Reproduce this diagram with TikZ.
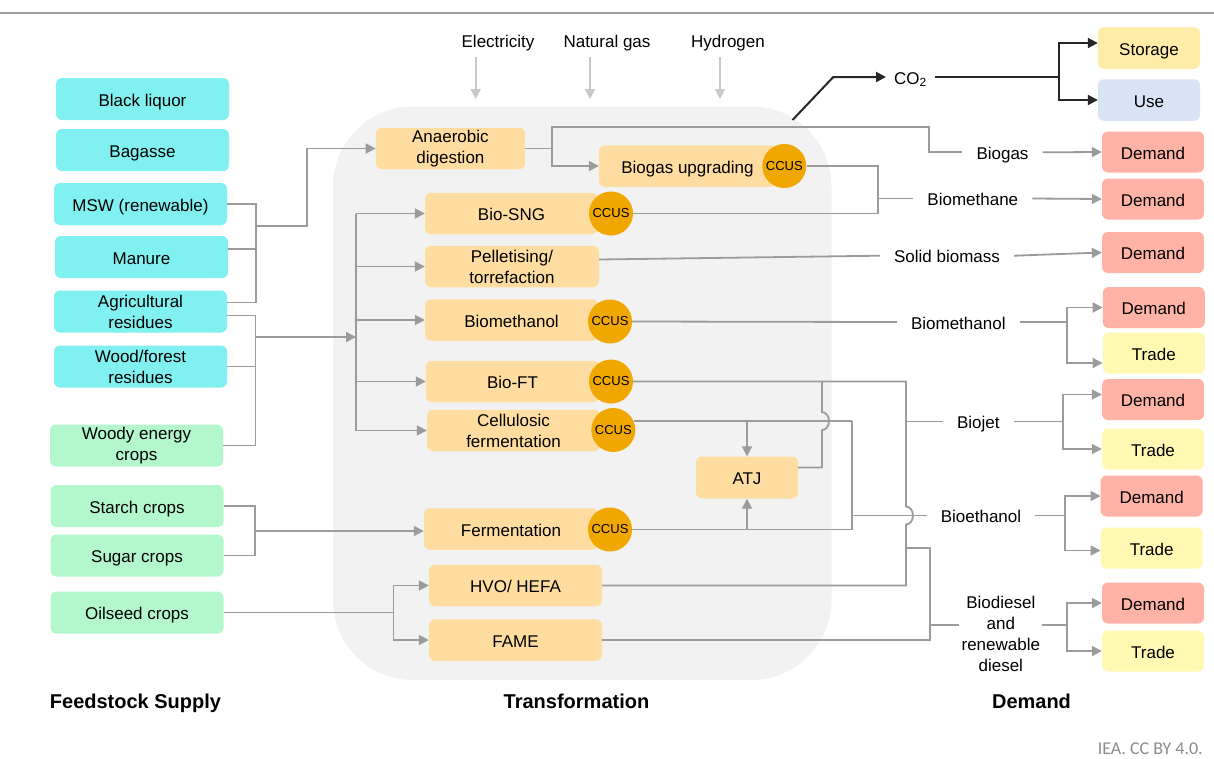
\documentclass[tikz,border=0pt]{standalone}
\usepackage{fontspec}
\setmainfont{Liberation Sans}
\newfontfamily\creditfont{Carlito}
\usetikzlibrary{arrows.meta}

\definecolor{cyanbox}{HTML}{80F0F0}
\definecolor{greenbox}{HTML}{B3F7CC}
\definecolor{orangebox}{HTML}{FFDDA0}
\definecolor{ccusfill}{HTML}{F0A800}
\definecolor{demandfill}{HTML}{FFB3A6}
\definecolor{tradefill}{HTML}{FFF9B3}
\definecolor{storagefill}{HTML}{FFECA6}
\definecolor{usefill}{HTML}{D8E4F5}
\definecolor{panelgray}{HTML}{F2F2F2}
\definecolor{linegray}{HTML}{9B9B9B}
\definecolor{inputgray}{HTML}{C8C8C8}
\definecolor{co2black}{HTML}{262626}
\definecolor{creditgray}{HTML}{8C8C8C}

\tikzset{
  oneline/.style={text height=14pt, text depth=0pt},
  multiline/.style={text height={}, text depth={}},
  boxbase/.style={rectangle, rounded corners=6pt, align=center, inner sep=2pt,
    font=\fontsize{17}{21}\selectfont, oneline},
  feedbox/.style={boxbase, fill=cyanbox, minimum width=173pt, minimum height=42pt},
  cropbox/.style={boxbase, fill=greenbox, minimum width=173pt, minimum height=42pt},
  procbox/.style={boxbase, fill=orangebox, minimum width=173pt, minimum height=41.5pt},
  ccusdot/.style={circle, fill=ccusfill, minimum size=44pt, inner sep=0pt,
    font=\fontsize{13}{15}\selectfont},
  demandbox/.style={boxbase, fill=demandfill, minimum width=102pt, minimum height=41pt},
  tradebox/.style={boxbase, fill=tradefill, minimum width=102pt, minimum height=41pt},
  flowlabel/.style={inner xsep=14pt, inner ysep=2pt, align=center,
    font=\fontsize{17}{21}\selectfont, oneline},
  colhead/.style={font=\fontsize{20}{24}\selectfont\bfseries, text height=16pt, text depth=0pt},
  conn/.style={draw=linegray, line width=1.8pt},
  arr/.style={conn, -{Triangle[length=10pt,width=10pt]}},
  inarr/.style={draw=inputgray, line width=1.8pt, -{Triangle[length=10pt,width=10pt]}},
  co2line/.style={draw=co2black, line width=2pt},
  co2arr/.style={co2line, -{Triangle[length=10pt,width=10pt]}},
}

\begin{document}
\begin{tikzpicture}[x=1pt,y=-1pt]
\useasboundingbox (0,0) rectangle (1214,758);
\fill[white] (0,0) rectangle (1214,758);

% top rule
\draw[draw=linegray, line width=2pt] (0,12.7) -- (1214,12.7);

% transformation panel
\fill[panelgray, rounded corners=80pt] (333,106.5) rectangle (831.5,680);

% ---------- feedstock supply ----------
\node[feedbox] (black)   at (142.5,99)  {Black liquor};
\node[feedbox] (bagasse) at (142.5,150) {Bagasse};
\node[feedbox] (msw)     at (140.5,204) {MSW (renewable)};
\node[feedbox] (manure)  at (141.5,257) {Manure};
\node[feedbox, multiline] (agri) at (140.5,311.5) {Agricultural\\residues};
\node[feedbox, multiline] (wood) at (140.5,366.5) {Wood/forest\\residues};
\node[cropbox, multiline] (woody) at (136.5,445.5) {Woody energy\\crops};
\node[cropbox] (starch)  at (137,506)   {Starch crops};
\node[cropbox] (sugar)   at (137,555.5) {Sugar crops};
\node[cropbox] (oil)     at (137,612.5) {Oilseed crops};

% ---------- energy inputs ----------
\node[flowlabel] (elec) at (498,40) {Electricity};
\node[flowlabel] (ngas) at (607,40) {Natural gas};
\node[flowlabel] (hyd)  at (728,40) {Hydrogen};
\coordinate (elecA) at (475.7,57);  \coordinate (elecB) at (475.7,99);
\coordinate (ngasA) at (590,57);    \coordinate (ngasB) at (590,99);
\coordinate (hydA)  at (720,57);    \coordinate (hydB)  at (720,99);
\draw[inarr] (elecA) -- (elecB);
\draw[inarr] (ngasA) -- (ngasB);
\draw[inarr] (hydA) -- (hydB);

% ---------- transformation ----------
\node[procbox, multiline, minimum width=149pt] (ad) at (450.4,148.5) {Anaerobic\\digestion};
\node[procbox, minimum width=177pt] (bgu) at (687.5,166) {Biogas upgrading};
\node[procbox] (biosng)  at (511.5,213.5) {Bio-SNG};
\node[procbox, multiline, minimum width=174pt] (pellet) at (512,266.5) {Pelletising/\\torrefaction};
\node[procbox] (biometh) at (511.5,320)   {Biomethanol};
\node[procbox] (bioft)   at (512.5,381.5) {Bio-FT};
\node[procbox, multiline] (cellu) at (513.5,430.5) {Cellulosic\\fermentation};
\node[procbox, minimum width=102pt, minimum height=42pt] (atj) at (747,477.5) {ATJ};
\node[procbox, minimum width=174pt] (ferm) at (511,529) {Fermentation};
\node[procbox] (hvo)  at (515.5,585.5) {HVO/ HEFA};
\node[procbox] (fame) at (515.5,640)   {FAME};

\node[ccusdot] (c1) at (784.3,166)   {CCUS};
\node[ccusdot] (c2) at (611,213.5)   {CCUS};
\node[ccusdot] (c3) at (610,321.5)   {CCUS};
\node[ccusdot] (c4) at (611,381.5)   {CCUS};
\node[ccusdot] (c5) at (613.3,430)   {CCUS};
\node[ccusdot] (c6) at (610,529.5)   {CCUS};

% ---------- CO2 and demand side ----------
\node[flowlabel, inner xsep=8pt] (co2) at (910.5,77) {CO\textsubscript{2}};
\node[boxbase, fill=storagefill, minimum width=102pt, minimum height=41.5pt] (storage) at (1149,48) {Storage};
\node[boxbase, fill=usefill, minimum width=102pt, minimum height=41.5pt] (use) at (1149,100) {Use};

\node[flowlabel] (biogas) at (1002.5,152.3) {Biogas};
\node[flowlabel] (bmeth)  at (972.8,198.5)  {Biomethane};
\node[flowlabel] (solid)  at (947,255.7)    {Solid biomass};
\node[flowlabel] (bmol)   at (958.3,322)    {Biomethanol};
\node[flowlabel] (bjet)   at (978.3,421.5)  {Biojet};
\node[flowlabel] (beth)   at (981,515.5)    {Bioethanol};
\node[flowlabel, multiline, inner xsep=2pt] (bdie) at (1000.8,634) {Biodiesel\\and\\renewable\\diesel};

\node[demandbox] (d1) at (1153,152)    {Demand};
\node[demandbox] (d2) at (1153,199)    {Demand};
\node[demandbox] (d3) at (1153,252.5)  {Demand};
\node[demandbox] (d4) at (1153.8,307.5){Demand};
\node[tradebox]  (t4) at (1153.8,353)  {Trade};
\node[demandbox] (d5) at (1153,399.5)  {Demand};
\node[tradebox]  (t5) at (1153,449)    {Trade};
\node[demandbox] (d6) at (1151.7,496)  {Demand};
\node[tradebox]  (t6) at (1151.7,548)  {Trade};
\node[demandbox] (d7) at (1153,603)    {Demand};
\node[tradebox]  (t7) at (1153,651)    {Trade};

% ---------- column headings and credit ----------
\node[colhead] (hfeed)  at (135.5,700) {Feedstock Supply};
\node[colhead] (htrans) at (576.5,700) {Transformation};
\node[colhead] (hdem)   at (1031.5,700) {Demand};
\node[anchor=east, inner sep=0pt, text=creditgray,
      font=\creditfont\fontsize{18}{20}\selectfont] (credit) at (1203,749) {IEA. CC BY 4.0.};

% ---------- junction points ----------
\coordinate (jL1)  at (255.7,226);
\coordinate (jL1b) at (307,226);
\coordinate (jL2)  at (255.5,337);
\coordinate (xT)   at (356,0);
\coordinate (jL3)  at (254.6,531);
\coordinate (jL4)  at (393.5,612.5);
\coordinate (jAD)  at (551.7,148.5);
\coordinate (jBG)  at (929,126.7);
\coordinate (jBM)  at (878.3,198.5);
\coordinate (xE)   at (852,0);
\coordinate (jMol) at (1067.3,322);
\coordinate (jJet) at (1063.3,421.5);
\coordinate (jEth) at (1065,515.5);
\coordinate (jDie) at (1067.3,625);
\coordinate (jD)   at (930,625);
\coordinate (co2src) at (792.5,120);
\coordinate (co2k)   at (833.3,77);
\coordinate (jCO2)   at (1059,77);

% ---------- feedstock connectors ----------
\draw[conn] (msw.east) -| (jL1);
\draw[conn] ([yshift=8pt]manure.east) -| (jL1);
\draw[conn] ([yshift=9pt]agri.east) -| (jL1);
\draw[arr] (jL1) -- (jL1b) |- (ad.west);

\draw[conn] ([yshift=-4pt]agri.east) -| (jL2);
\draw[conn] (wood.east) -| (jL2);
\draw[conn] (woody.east) -| (jL2);
\draw[arr] (jL2) -- (jL2 -| xT);

\draw[conn] (xT |- biosng.west) -- (xT |- cellu.west);
\foreach \n in {biosng,pellet,biometh,bioft,cellu}
  \draw[arr] (xT |- \n.west) -- (\n.west);

\draw[conn] (starch.east) -| (jL3);
\draw[conn] (sugar.east) -| (jL3);
\draw[arr] (jL3) -- (jL3 -| ferm.west);

\draw[conn] (oil.east) -- (jL4);
\draw[arr] (jL4) |- (hvo.west);
\draw[arr] (jL4) |- (fame.west);

% ---------- gaseous routes ----------
\draw[conn] (ad.east) -- (jAD);
\draw[conn] (jAD) |- (jBG) |- (biogas.west);
\draw[arr] (jAD) |- (bgu.west);
\draw[arr] (biogas.east) -- (d1.west);

\draw[conn] (c1.east) -| (jBM);
\draw[conn] (c2.east) -| (jBM);
\draw[conn] (jBM) -- (bmeth.west);
\draw[arr] (bmeth.east) -- (d2.west);

\draw[conn] ([yshift=7pt]pellet.east) -- (solid.west);
\draw[arr] (solid.east) -- (d3.west);

% ---------- CO2 ----------
\draw[co2arr] (co2src) -- (co2k) -- (co2.west);
\draw[co2line] (co2.east) -- (jCO2);
\draw[co2arr] (jCO2) |- ([yshift=5pt]storage.west);
\draw[co2arr] (jCO2) |- (use.west);

% ---------- liquid routes ----------
\draw[conn] (c3.east) -- (bmol.west);
\draw[conn] (bmol.east) -- (jMol);
\draw[arr] (jMol) |- (d4.west);
\draw[arr] (jMol) |- ([yshift=-10pt]t4.west);

% ethanol streams and ATJ feeds
\draw[conn] (c5.24) -- (c5.24 -| xE);
\draw[conn] (c6.east) -- (c6.east -| xE);
\draw[conn] (c5.24 -| xE) -- (c6.east -| xE);
\draw[arr] (atj.north |- c5.24) -- (atj.north);
\draw[arr] (atj.south |- c6.east) -- (atj.south);
\draw[conn] (xE |- beth.west) -- (beth.west);

% ATJ output, hopping over the cellulosic stream
\draw[conn] ([yshift=10pt]atj.east) -- (822,467.5) -- (822,430.1)
  arc[start angle=-90, end angle=90, x radius=7pt, y radius=9pt] -- (822,381.5);

% Bio-FT / HVO collector, hopping over the ethanol stream
\draw[conn] (c4.east) -- (906,381.5) -- (906,506.5)
  arc[start angle=90, end angle=-90, x radius=7pt, y radius=9pt] -- (906,585.5) -- (hvo.east);
\draw[conn] (906,421.5) -- (bjet.west);
\draw[conn] (bjet.east) -- (jJet);
\draw[arr] (jJet) |- ([yshift=5pt]d5.west);
\draw[arr] (jJet) |- (t5.west);

\draw[conn] (beth.east) -- (jEth);
\draw[arr] (jEth) |- (d6.west);
\draw[arr] (jEth) |- ([yshift=-2.5pt]t6.west);

% diesel
\draw[conn] (fame.east) -- (930,640) -- (930,547.7) -- (906,547.7);
\draw[conn] (jD) -- (jD -| bdie.west);
\draw[conn] (jDie -| bdie.east) -- (jDie);
\draw[arr] (jDie) |- (d7.west);
\draw[arr] (jDie) |- (t7.west);

\end{tikzpicture}
\end{document}
